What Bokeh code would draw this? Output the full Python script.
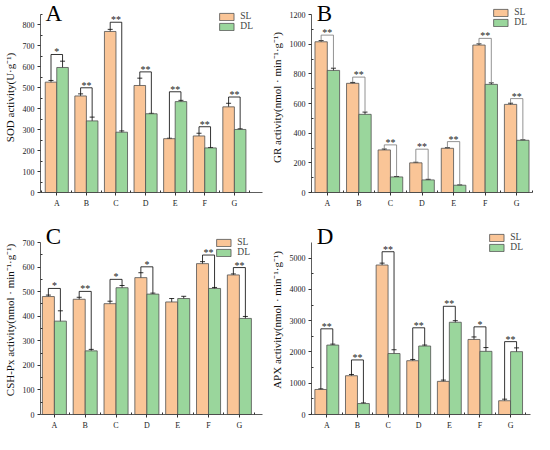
from bokeh.plotting import figure
from bokeh.layouts import column, row
from bokeh.models import (Range1d, FixedTicker, Whisker, TeeHead, ColumnDataSource,
                          Legend, LegendItem, Label)
from bokeh.embed import file_html
from bokeh.resources import INLINE
from bokeh.core.properties import value

groups = ["A", "B", "C", "D", "E", "F", "G"]

# Panel A: SOD
sod_sl = [527, 461, 769, 511, 257, 270, 409]
sod_sl_err = [8, 10, 10, 35, 2, 13, 17]
sod_dl = [597, 342, 288, 376, 434, 213, 301]
sod_dl_err = [30, 18, 6, 2, 6, 2, 3]
sod_br = [659, 500, 813, 576, 481, 314, 456]
sod_sig = ["*", "**", "**", "**", "**", "**", "**"]

# Panel B: GR
gr_sl = [1016, 736, 287, 200, 298, 994, 594]
gr_sl_err = [8, 6, 6, 4, 4, 8, 8]
gr_dl = [823, 527, 105, 85, 49, 729, 352]
gr_dl_err = [15, 15, 3, 4, 2, 10, 3]
gr_br = [1061, 778, 321, 292, 343, 1039, 633]
gr_sig = ["**", "**", "**", "**", "**", "**", "**"]

# Panel C: CSH-Px
csh_sl = [480, 469, 451, 557, 458, 614, 568]
csh_sl_err = [6, 8, 10, 20, 14, 8, 4]
csh_dl = [380, 259, 516, 490, 472, 513, 391]
csh_dl_err = [42, 6, 9, 4, 9, 4, 8]
csh_br = [513, 501, 550, 601, None, 649, 598]
csh_sig = ["*", "**", "*", "*", "", "**", "**"]

# Panel D: APX
apx_sl = [800, 1240, 4780, 1720, 1060, 2400, 440]
apx_sl_err = [20, 40, 60, 40, 40, 80, 50]
apx_dl = [2220, 350, 1950, 2190, 2950, 2020, 2010]
apx_dl_err = [30, 20, 120, 30, 50, 120, 120]
apx_br = [2740, 1745, 5205, 2772, 3460, 2803, 2330]
apx_sig = ["**", "**", "**", "**", "**", "*", "**"]

SL_COLOR = "#FAC597"
DL_COLOR = "#9AD69C"
EDGE = "#505050"
FONT = "Liberation Serif"


def panel(letter, ylabel, sl, sl_err, dl, dl_err, br, sig, ymax, yticks, yminor,
          xr, w, h, borders, extra_px, leg_margin, br_color):
    left, right, top, bottom = borders
    frame_px = h - top - bottom
    axis_px = frame_px - extra_px
    yend = ymax * frame_px / axis_px
    px = yend / frame_px
    p = figure(width=w, height=h, output_backend="svg", toolbar_location=None,
               x_range=Range1d(*xr), y_range=Range1d(0, yend))
    p.min_border_left, p.min_border_right, p.min_border_top, p.min_border_bottom = borders
    p.outline_line_color = None
    p.grid.visible = False
    p.background_fill_color = "white"

    xs = list(range(1, len(groups) + 1))
    off = 0.195
    bw = 0.39
    x_sl = [x - off for x in xs]
    x_dl = [x + off for x in xs]
    src_sl = ColumnDataSource(dict(x=x_sl, top=sl, up=[v + e for v, e in zip(sl, sl_err)],
                                   lo=[v - e for v, e in zip(sl, sl_err)]))
    src_dl = ColumnDataSource(dict(x=x_dl, top=dl, up=[v + e for v, e in zip(dl, dl_err)],
                                   lo=[v - e for v, e in zip(dl, dl_err)]))
    r_sl = p.vbar(x="x", top="top", width=bw, bottom=0, source=src_sl,
                  fill_color=SL_COLOR, line_color=EDGE, line_width=0.8)
    r_dl = p.vbar(x="x", top="top", width=bw, bottom=0, source=src_dl,
                  fill_color=DL_COLOR, line_color=EDGE, line_width=0.8)
    for s in (src_sl, src_dl):
        wk = Whisker(base="x", upper="up", lower="lo", source=s, line_color="black",
                     line_width=0.8,
                     upper_head=TeeHead(size=5, line_color="black", line_width=0.8),
                     lower_head=TeeHead(size=5, line_color="black", line_width=0.8))
        p.add_layout(wk)

    # significance brackets
    bx, by, tx, ty, tt = [], [], [], [], []
    for i, b in enumerate(br):
        if b is None:
            continue
        bx.append([x_sl[i], x_sl[i], x_dl[i], x_dl[i]])
        by.append([sl[i] + sl_err[i], b, b, dl[i] + dl_err[i]])
        tx.append(xs[i])
        ty.append(b + 2.5 * px)
        tt.append(sig[i])
    p.multi_line(bx, by, line_color=br_color, line_width=0.8)
    p.text(tx, ty, text=tt, text_font=value(FONT), text_font_size="10px",
           text_align="center", text_baseline="middle", text_color="#222222")

    # axes
    p.xaxis.ticker = FixedTicker(ticks=xs, minor_ticks=[x + 0.5 for x in [0] + xs])
    p.xaxis.major_label_overrides = {x: g for x, g in zip(xs, groups)}
    p.yaxis.ticker = FixedTicker(ticks=yticks, minor_ticks=yminor)
    p.yaxis.bounds = (0, ymax)
    for ax in (p.xaxis[0], p.yaxis[0]):
        ax.axis_line_color = "#333333"
        ax.axis_line_width = 0.8
        ax.major_tick_line_color = "#333333"
        ax.minor_tick_line_color = "#333333"
        ax.major_tick_out = 3
        ax.major_tick_in = 0
        ax.minor_tick_out = 0
        ax.minor_tick_in = 2
        ax.major_label_text_font = FONT
        ax.major_label_text_font_size = "8px"
        ax.major_label_text_color = "#222222"
        ax.major_label_standoff = 3
    p.yaxis.axis_label = ylabel
    p.yaxis.axis_label_text_font = FONT
    p.yaxis.axis_label_text_font_style = "normal"
    p.yaxis.axis_label_text_font_size = "11px"
    p.yaxis.axis_label_text_color = "#111111"
    p.yaxis.axis_label_standoff = 4

    # legend
    leg = Legend(items=[LegendItem(label="SL", renderers=[r_sl]),
                        LegendItem(label="DL", renderers=[r_dl])],
                 location="top_right", orientation="vertical")
    leg.glyph_width = 18
    leg.glyph_height = 9
    leg.spacing = 0
    leg.padding = 2
    leg.margin = leg_margin
    leg.label_height = 9
    leg.label_width = 12
    leg.label_standoff = 5
    leg.label_text_font = FONT
    leg.label_text_font_size = "9.5px"
    leg.border_line_color = None
    leg.background_fill_alpha = 0
    p.add_layout(leg)

    lab = Label(x=xr[0] + 0.17, y=yend, text=letter, text_font=FONT,
                text_font_size="23px", text_baseline="top", text_color="black",
                y_offset=2)
    p.add_layout(lab)
    return p


pa = panel("A", "SOD activity(U·g⁻¹)", sod_sl, sod_sl_err, sod_dl, sod_dl_err,
           sod_br, sod_sig, 850, list(range(0, 801, 100)), list(range(50, 851, 100)),
           (0.45, 7.95), 267, 217, (5, 5, 2, 25), 12, 9, "black")
pb = panel("B", "GR activity(nmol · min⁻¹·g⁻¹)", gr_sl, gr_sl_err, gr_dl, gr_dl_err,
           gr_br, gr_sig, 1200, list(range(0, 1201, 200)), list(range(100, 1200, 200)),
           (0.5, 7.5), 267, 217, (5, 2, 2, 25), 12, 5, "#777777")
pc = panel("C", "CSH-Px activity(nmol · min⁻¹·g⁻¹)", csh_sl, csh_sl_err, csh_dl, csh_dl_err,
           csh_br, csh_sig, 700, list(range(0, 701, 100)), list(range(50, 700, 100)),
           (0.55, 7.75), 267, 217, (5, 5, 8, 20), 17, 12, "black")
pd = panel("D", "APX activity(nmol · min⁻¹·g⁻¹)", apx_sl, apx_sl_err, apx_dl, apx_dl_err,
           apx_br, apx_sig, 5500, list(range(0, 5001, 1000)), list(range(500, 5500, 1000)),
           (0.5, 7.65), 267, 217, (5, 4, 8, 20), 17, 7, "black")

layout = column(row(pa, pb), row(pc, pd))
open("out.html", "w").write(file_html(layout, INLINE))
